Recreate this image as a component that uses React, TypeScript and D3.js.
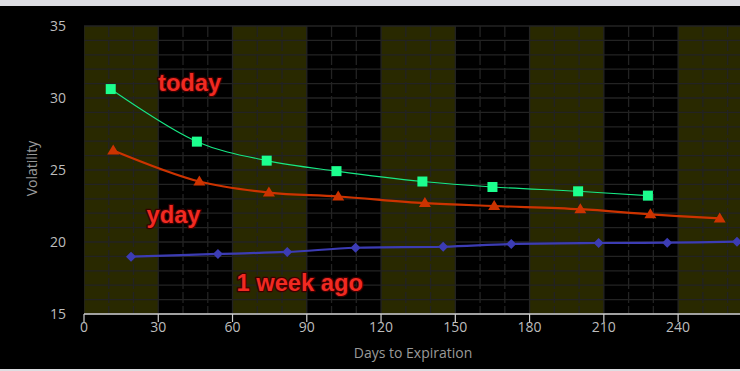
import React from "react";
import * as d3 from "d3";

const todayDays = [10.8, 45.6, 73.8, 102, 136.7, 165, 199.6, 227.8];
const todayVol = [30.62, 26.97, 25.65, 24.92, 24.2, 23.82, 23.52, 23.22];
const ydayDays = [11.8, 46.6, 74.7, 102.7, 137.7, 165.7, 200.5, 228.8, 256.8];
const ydayVol = [26.36, 24.2, 23.43, 23.16, 22.7, 22.5, 22.28, 21.92, 21.64];
const weekDays = [19, 54.1, 82.1, 109.7, 145.1, 172.6, 207.9, 235.6, 263.8];
const weekVol = [18.98, 19.17, 19.31, 19.6, 19.67, 19.86, 19.93, 19.95, 20.02];
const xTicks = [0, 30, 60, 90, 120, 150, 180, 210, 240];
const yTicks = [15, 20, 25, 30, 35];
const bandStarts = [0, 60, 120, 180, 240];

const W = 740;
const H = 371;
const L = 84, R = 740, T = 26, B = 314;

export default function App() {
  const x = d3.scaleLinear().domain([0, 265]).range([L, R]);
  const y = d3.scaleLinear().domain([15, 35]).range([B, T]);
  const line = d3
    .line<[number, number]>()
    .x((d) => x(d[0]))
    .y((d) => y(d[1]))
    .curve(d3.curveCatmullRom.alpha(0.5));
  const today = todayDays.map((d, i) => [d, todayVol[i]] as [number, number]);
  const yday = ydayDays.map((d, i) => [d, ydayVol[i]] as [number, number]);
  const week = weekDays.map((d, i) => [d, weekVol[i]] as [number, number]);
  const hLines = d3.range(15, 36, 1);
  const vLines = d3.range(0, 270, 10);
  const font = "'Open Sans', 'Noto Sans', sans-serif";
  const labelStyle: React.CSSProperties = {
    paintOrder: "stroke",
  };
  return (
    <svg
      width={W}
      height={H}
      style={{ position: "absolute", left: 0, top: 0, display: "block" }}
    >
      <rect x={0} y={0} width={W} height={H} fill="#dedee2" />
      <rect x={0} y={6} width={W} height={363} fill="#000" />
      <defs>
        <clipPath id="plot">
          <rect x={L} y={T - 1} width={R - L} height={B - T + 2} />
        </clipPath>
      </defs>
      <g clipPath="url(#plot)">
        {bandStarts.map((b) => (
          <rect
            key={b}
            x={x(b)}
            y={T}
            width={x(b + 30) - x(b)}
            height={B - T}
            fill="#292900"
          />
        ))}
        {hLines.map((v) => (
          <line
            key={"h" + v}
            x1={L}
            x2={R}
            y1={y(v)}
            y2={y(v)}
            stroke="#232323"
            strokeWidth={1.3}
          />
        ))}
        {vLines.map((v) => (
          <line
            key={"v" + v}
            x1={x(v)}
            x2={x(v)}
            y1={T}
            y2={B}
            stroke="#232323"
            strokeWidth={1.3}
            strokeDasharray={v % 30 === 0 ? undefined : "11,3"}
          />
        ))}
        <path d={line(week) || ""} fill="none" stroke="#3c3cb4" strokeWidth={2.2} />
        <path d={line(yday) || ""} fill="none" stroke="#cc3300" strokeWidth={2.2} />
        <path d={line(today) || ""} fill="none" stroke="#17e884" strokeWidth={1.1} />
        {week.map((d, i) => {
          const cx = x(d[0]);
          const cy = y(d[1]);
          const r = 5;
          return (
            <path
              key={"w" + i}
              d={`M${cx},${cy - r}L${cx + r},${cy}L${cx},${cy + r}L${cx - r},${cy}Z`}
              fill="#3c3cb4"
            />
          );
        })}
        {yday.map((d, i) => {
          const cx = x(d[0]);
          const cy = y(d[1]);
          return (
            <path
              key={"y" + i}
              d={`M${cx},${cy - 6}L${cx + 6},${cy + 4}L${cx - 6},${cy + 4}Z`}
              fill="#cc3300"
            />
          );
        })}
        {today.map((d, i) => (
          <rect
            key={"t" + i}
            x={x(d[0]) - 5}
            y={y(d[1]) - 5}
            width={10}
            height={10}
            fill="#1cff8e"
          />
        ))}
      </g>
      <line x1={L} x2={R} y1={B} y2={B} stroke="#cfcfcf" strokeWidth={1.5} />
      {xTicks.map((t) => (
        <g key={"xt" + t}>
          <line x1={x(t)} x2={x(t)} y1={B} y2={B + 8} stroke="#cfcfcf" strokeWidth={1.2} />
          <text
            x={x(t)}
            y={332}
            textAnchor="middle"
            fill="#bdbdbd"
            fontFamily={font}
            fontSize={14}
          >
            {t}
          </text>
        </g>
      ))}
      {yTicks.map((t) => (
        <text
          key={"yt" + t}
          x={66}
          y={y(t) + 5}
          textAnchor="end"
          fill="#bdbdbd"
          fontFamily={font}
          fontSize={14}
        >
          {t}
        </text>
      ))}
      <text
        x={413}
        y={358}
        textAnchor="middle"
        fill="#9a9a9a"
        fontFamily={font}
        fontSize={14}
      >
        Days to Expiration
      </text>
      <text
        transform="translate(37,168.5) rotate(-90)"
        textAnchor="middle"
        fill="#9a9a9a"
        fontFamily={font}
        fontSize={14}
      >
        Volatility
      </text>
      {[
        { t: "today", x: 158, y: 91 },
        { t: "yday", x: 146.5, y: 223 },
        { t: "1 week ago", x: 236.5, y: 290.5 },
      ].map((l) => (
        <text
          key={l.t}
          x={l.x}
          y={l.y}
          fill="#f02a22"
          stroke="#3a0000"
          strokeWidth={2.5}
          strokeLinejoin="round"
          fontFamily="'Liberation Sans', Arial, sans-serif"
          fontWeight="bold"
          fontSize={23.7}
          style={labelStyle}
        >
          {l.t}
        </text>
      ))}
    </svg>
  );
}
